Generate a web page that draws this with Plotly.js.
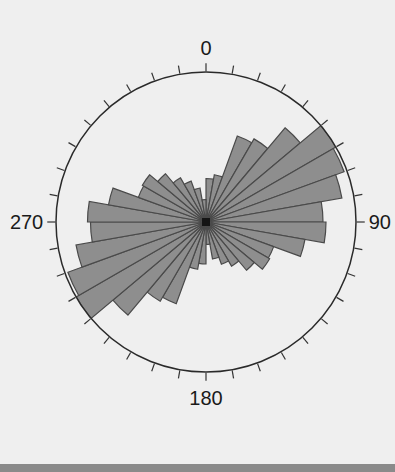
<!DOCTYPE html>
<html>
<head>
<meta charset="utf-8">
<script src="https://cdn.plot.ly/plotly-3.0.1.min.js"></script>
<style>html,body{margin:0;padding:0;background:#efefef;}#chart{width:395px;height:472px;}</style>
</head>
<body>
<div id="chart"></div>
<script>
// Bin centres (degrees, clockwise from north), 10-degree bins
const binCenters = [5,15,25,35,45,55,65,75,85,95,105,115,125,135,145,155,165,175,
                    185,195,205,215,225,235,245,255,265,275,285,295,305,315,325,335,345,355];
// Relative frequency of each bin (longest petal = 1)
const binValues = [0.29,0.32,0.61,0.64,0.82,1.00,0.98,0.92,0.78,
                   0.80,0.67,0.48,0.49,0.42,0.34,0.30,0.25,0.15,
                   0.28,0.32,0.58,0.61,0.81,1.00,0.98,0.88,0.77,
                   0.79,0.66,0.48,0.49,0.42,0.34,0.29,0.23,0.15];
// Angular ticks every 10 degrees, labels only at the cardinal directions
const tickAngles = [0,10,20,30,40,50,60,70,80,90,100,110,120,130,140,150,160,170,
                    180,190,200,210,220,230,240,250,260,270,280,290,300,310,320,330,340,350];
const tickLabels = ["0","","","","","","","","","90","","","","","","","","",
                    "180","","","","","","","","","270","","","","","","","",""];
const binWidth = 10;

const traces = [
  {
    type: 'barpolar',
    r: binValues,
    theta: binCenters,
    width: binCenters.map(() => binWidth),
    marker: {color: '#8e8e8e', line: {color: '#4a4a4a', width: 1.2}},
    hoverinfo: 'skip'
  },
  {
    type: 'scatterpolar',
    r: [0],
    theta: [0],
    mode: 'markers',
    marker: {symbol: 'square', size: 8, color: '#151515'},
    hoverinfo: 'skip'
  }
];

const R = 150, cx = 206, cy = 222, W = 395, H = 472;
const layout = {
  width: W, height: H,
  margin: {l: 0, r: 0, t: 0, b: 0},
  paper_bgcolor: '#efefef',
  showlegend: false,
  font: {family: 'Liberation Sans, Arial, sans-serif', color: '#1a1a1a'},
  polar: {
    domain: {x: [(cx - R) / W, (cx + R) / W], y: [(H - cy - R) / H, (H - cy + R) / H]},
    bgcolor: 'rgba(0,0,0,0)',
    bargap: 0,
    radialaxis: {visible: false, range: [0, 1.0]},
    angularaxis: {
      direction: 'clockwise',
      rotation: 90,
      tickmode: 'array',
      tickvals: tickAngles,
      ticktext: tickLabels,
      ticks: 'outside',
      ticklen: 8,
      tickwidth: 1.2,
      tickcolor: '#333',
      showgrid: false,
      showline: true,
      linecolor: '#2a2a2a',
      linewidth: 1.5,
      tickfont: {size: 20, color: '#1a1a1a', family: 'Liberation Sans, Arial, sans-serif'}
    }
  },
  shapes: [
    {type: 'rect', xref: 'paper', yref: 'paper', x0: 0, x1: 1, y0: 0, y1: 8 / H,
     fillcolor: '#8a8a8a', line: {width: 0}, layer: 'below'}
  ]
};

Plotly.newPlot('chart', traces, layout, {displayModeBar: false, staticPlot: true});
</script>
</body>
</html>
